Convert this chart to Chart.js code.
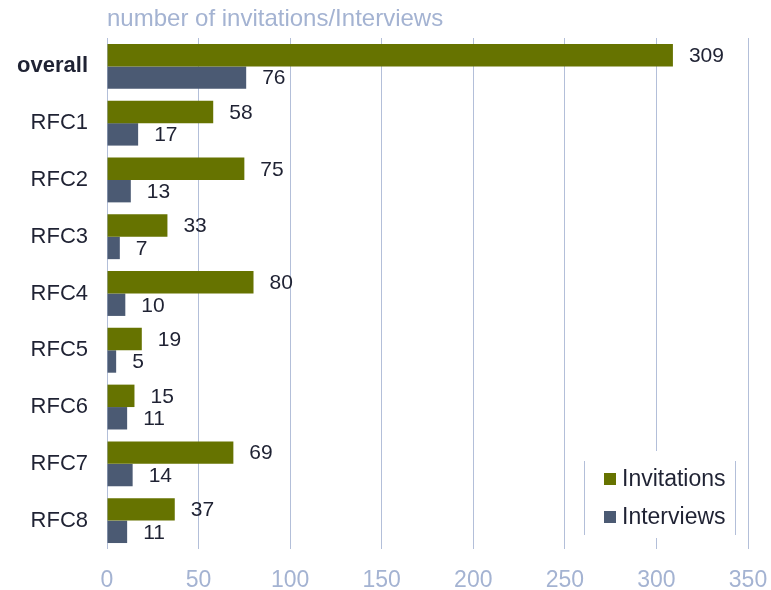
<!DOCTYPE html>
<html>
<head>
<meta charset="utf-8">
<title>Invitations / Interviews</title>
<script src="https://cdn.jsdelivr.net/npm/chart.js@4/dist/chart.umd.min.js"></script>
<style>
  html, body { margin: 0; padding: 0; background: #fff; }
  #wrap { width: 771px; height: 590px; }
</style>
</head>
<body>
<div id="wrap"><canvas id="rfcChart" width="771" height="590"></canvas></div>
<script>
// ========== Dados ==========
const categories = ['overall', 'RFC1', 'RFC2', 'RFC3', 'RFC4', 'RFC5', 'RFC6', 'RFC7', 'RFC8'];
const invitations = [309, 58, 75, 33, 80, 19, 15, 69, 37];
const interviews = [76, 17, 13, 7, 10, 5, 11, 14, 11];
const xTicks = [0, 50, 100, 150, 200, 250, 300, 350];
const chartTitle = 'number of invitations/Interviews';

const FONT = "'Liberation Sans', Arial, sans-serif";
const GREEN = '#667300';
const SLATE = '#4b5a73';
const GRID = '#b3bfd9';
const LIGHT_TEXT = '#a4b3d2';
const DARK_TEXT = '#1f2233';

// ========== Plugins ==========
// título acima da área do gráfico, alinhado ao eixo
const titlePlugin = {
  id: 'topTitle',
  afterDraw(chart) {
    const ctx = chart.ctx;
    ctx.save();
    ctx.font = '24px ' + FONT;
    ctx.fillStyle = LIGHT_TEXT;
    ctx.textAlign = 'left';
    ctx.textBaseline = 'alphabetic';
    ctx.fillText(chartTitle, chart.chartArea.left, 26);
    ctx.restore();
  }
};

// valores ao lado de cada barra
const valueLabels = {
  id: 'valueLabels',
  afterDatasetsDraw(chart) {
    const ctx = chart.ctx;
    ctx.save();
    ctx.font = '21px ' + FONT;
    ctx.fillStyle = DARK_TEXT;
    ctx.textAlign = 'left';
    ctx.textBaseline = 'middle';
    chart.data.datasets.forEach((ds, i) => {
      const meta = chart.getDatasetMeta(i);
      meta.data.forEach((bar, j) => {
        ctx.fillText(String(ds.data[j]), bar.x + 16, bar.y + 1);
      });
    });
    ctx.restore();
  }
};

// legenda dentro da área, canto inferior direito
const boxLegend = {
  id: 'boxLegend',
  afterDraw(chart) {
    const ctx = chart.ctx;
    const area = chart.chartArea;
    const right = area.right - 13;
    const left = right - 151;
    const top = area.bottom - 88;
    ctx.save();
    ctx.fillStyle = '#fff';
    ctx.fillRect(left, top - 10, right - left + 1, 87);
    ctx.strokeStyle = GRID;
    ctx.lineWidth = 1;
    ctx.beginPath();
    ctx.moveTo(left + 0.5, top);
    ctx.lineTo(left + 0.5, top + 74);
    ctx.moveTo(right + 0.5, top);
    ctx.lineTo(right + 0.5, top + 74);
    ctx.stroke();
    ctx.font = '23px ' + FONT;
    ctx.textAlign = 'left';
    ctx.textBaseline = 'middle';
    chart.data.datasets.forEach((ds, i) => {
      const cy = top + 18 + i * 38;
      ctx.fillStyle = ds.backgroundColor;
      ctx.fillRect(left + 20, cy - 6, 12, 12);
      ctx.fillStyle = DARK_TEXT;
      ctx.fillText(ds.label, left + 38, cy + 1);
    });
    ctx.restore();
  }
};

// ========== Gráfico ==========
const ctxMain = document.getElementById('rfcChart').getContext('2d');
new Chart(ctxMain, {
  type: 'bar',
  data: {
    labels: categories,
    datasets: [
      { label: 'Invitations', data: invitations, backgroundColor: GREEN },
      { label: 'Interviews', data: interviews, backgroundColor: SLATE }
    ]
  },
  options: {
    indexAxis: 'y',
    responsive: false,
    animation: false,
    devicePixelRatio: 1,
    layout: { padding: { top: 38, right: 23, left: 0, bottom: 0 } },
    datasets: { bar: { categoryPercentage: 0.79, barPercentage: 1.0 } },
    plugins: {
      legend: { display: false },
      tooltip: { enabled: false },
      title: { display: false }
    },
    scales: {
      x: {
        min: 0,
        max: 350,
        afterBuildTicks: (scale) => { scale.ticks = xTicks.map(v => ({ value: v })); },
        afterFit: (scale) => {
          scale.height = 41;
          scale.paddingLeft = 0;
          scale.paddingRight = 0;
        },
        grid: { color: GRID, lineWidth: 1, drawTicks: false },
        border: { display: false },
        ticks: {
          padding: 18,
          color: LIGHT_TEXT,
          font: { family: FONT, size: 23 }
        }
      },
      y: {
        afterFit: (scale) => { scale.width = 107; },
        grid: { display: false },
        border: { display: false },
        ticks: {
          padding: 11,
          color: DARK_TEXT,
          font: (c) => ({ family: FONT, size: 22, weight: c.index === 0 ? 'bold' : 'normal' })
        }
      }
    }
  },
  plugins: [titlePlugin, valueLabels, boxLegend]
});
</script>
</body>
</html>
